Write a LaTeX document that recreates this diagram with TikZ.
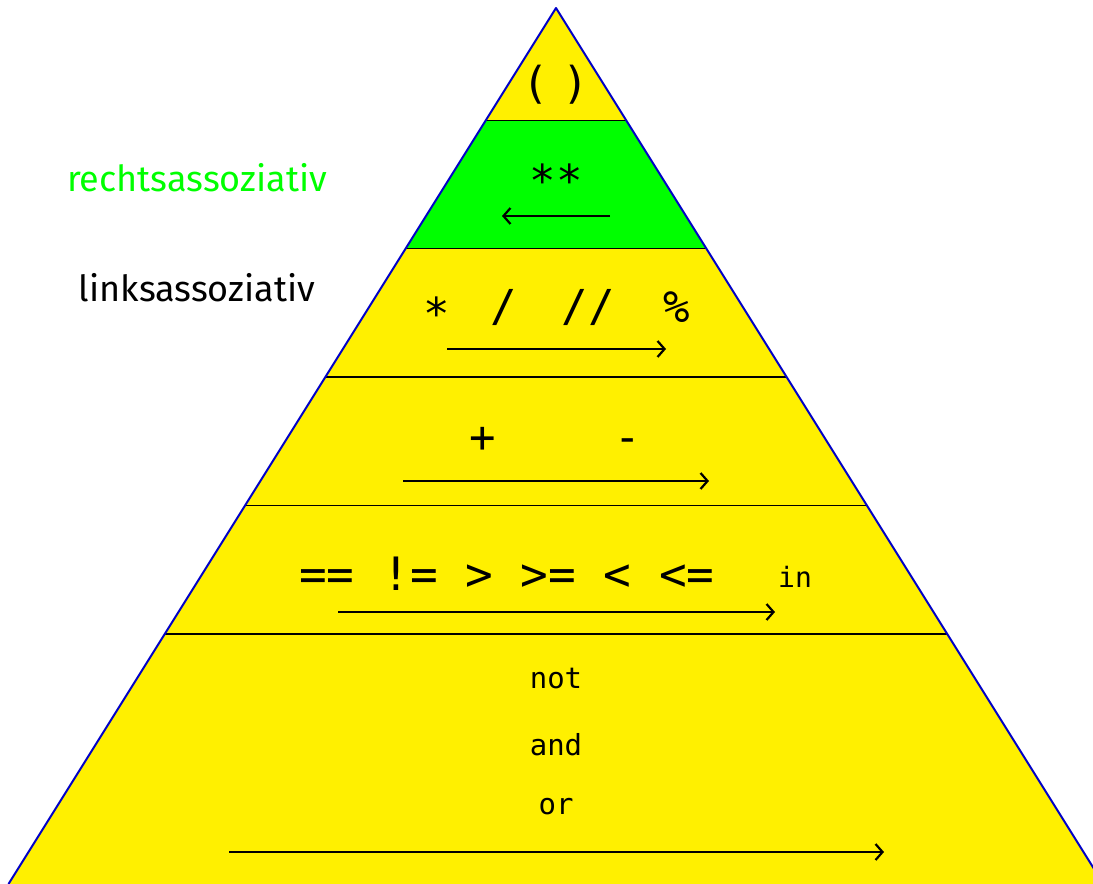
\documentclass[tikz,border=0pt]{standalone}
\usepackage{fontspec}
\setmainfont{Fira Sans}
\setmonofont{DejaVu Sans Mono}
\usetikzlibrary{arrows.meta}
\definecolor{pyyellow}{RGB}{255,240,0}
\definecolor{pygreen}{RGB}{0,255,0}
\definecolor{pyblue}{RGB}{0,0,200}
\tikzset{
  band/.style={line width=1.8pt, draw=black},
  yband/.style={fill=pyyellow},
  gband/.style={fill=pygreen},
  op/.style={font=\ttfamily\fontsize{#1}{#1}\selectfont, inner sep=0pt},
  lbl/.style={font=\fontsize{36}{36}\selectfont, inner sep=0pt},
  assoc/.style={line width=2.5pt, -{Straight Barb[length=7pt,width=16pt,line width=2.2pt]}}
}
\begin{document}
\begin{tikzpicture}[x=1pt,y=-1pt]
\useasboundingbox (0,0) rectangle (1093,884);
\begin{scope}
\clip (0,0) rectangle (1093,884);
% bands
\fill[yband] (556,8) -- (626.3,120.5) -- (485.7,120.5) -- cycle;
\fill[gband] (485.7,120.5) -- (626.3,120.5) -- (706.3,248.5) -- (405.7,248.5) -- cycle;
\fill[yband] (405.7,248.5) -- (706.3,248.5) -- (786.6,377) -- (325.4,377) -- cycle;
\fill[yband] (325.4,377) -- (786.6,377) -- (866.9,505.5) -- (245.1,505.5) -- cycle;
\fill[yband] (245.1,505.5) -- (866.9,505.5) -- (947.25,634) -- (164.75,634) -- cycle;
\fill[yband] (164.75,634) -- (947.25,634) -- (1103.5,884) -- (8.5,884) -- cycle;
% separators
\draw[band] (485.7,120.5) -- (626.3,120.5);
\draw[band] (405.7,248.5) -- (706.3,248.5);
\draw[band] (325.4,377) -- (786.6,377);
\draw[band] (245.1,505.5) -- (866.9,505.5);
\draw[band] (164.75,634) -- (947.25,634);
% sides
\draw[pyblue, line width=2pt, line join=round] (8.5,884) -- (556,8) -- (1103.5,884);
\end{scope}
% operators
\node[op=44] (lpar) at (536,85) {(};
\node[op=44] (rpar) at (576,85) {)};
\node[op=44] (pow) at (556,180) {**};
\node[op=44] (mul) at (437,313) {*};
\node[op=44] (div) at (504,307) {/};
\node[op=44] (fdiv) at (588,307) {//};
\node[op=44] (mod) at (677,307) {\%};
\node[op=44,anchor=base] (plus) at (483,452) {+};
\node[op=44,anchor=base] (minus) at (628,452) {-};
\node[op=46,anchor=base] (cmp) at (507,590) {==~!=~>~>=~<~<=};
\node[op=28] (in) at (795,577) {in};
\node[op=29] (not) at (556,679) {not};
\node[op=29] (and) at (556,745) {and};
\node[op=29] (or) at (556,807) {or};
% labels
\node[lbl, text=pygreen] (rechts) at (197,178) {rechtsassoziativ};
\node[lbl] (links) at (197,288) {linksassoziativ};
% arrows
\coordinate (a2s) at (610,216); \coordinate (a2e) at (502,216);
\coordinate (a3s) at (447,349); \coordinate (a3e) at (666,349);
\coordinate (a4s) at (403,481); \coordinate (a4e) at (709,481);
\coordinate (a5s) at (338,612); \coordinate (a5e) at (775,612);
\coordinate (a6s) at (229,852); \coordinate (a6e) at (884,852);
\draw[assoc] (a2s) -- (a2e);
\draw[assoc] (a3s) -- (a3e);
\draw[assoc] (a4s) -- (a4e);
\draw[assoc] (a5s) -- (a5e);
\draw[assoc] (a6s) -- (a6e);
\end{tikzpicture}
\end{document}
